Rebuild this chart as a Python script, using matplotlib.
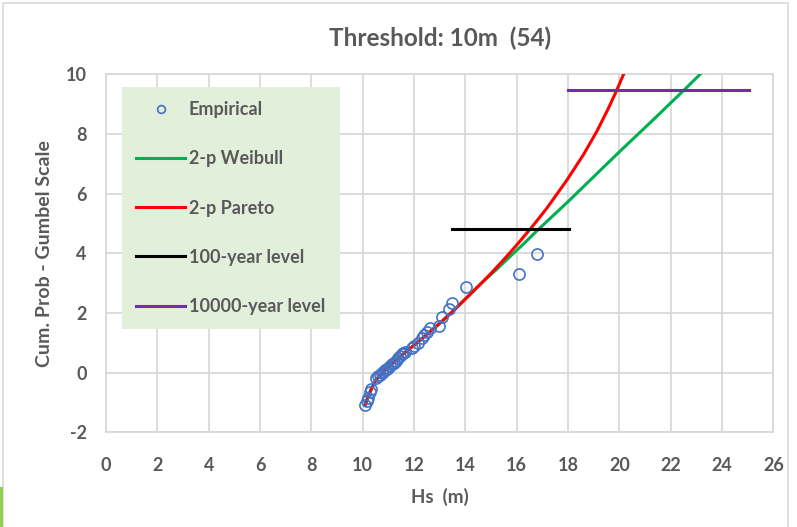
import matplotlib.pyplot as plt
import matplotlib.patches as patches

plt.rcParams['font.family'] = ['Lato', 'DejaVu Sans']
plt.rcParams['axes.unicode_minus'] = False

# empirical points (Hs, reduced variate)
emp_hs = [10.09, 10.15, 10.22, 10.28, 10.33, 10.51, 10.60, 10.67, 10.74, 10.80,
          10.87, 10.93, 11.00, 11.06, 11.15, 11.23, 11.30, 11.39, 11.45, 11.52,
          11.58, 11.65, 11.93, 12.00, 12.17, 12.30, 12.40, 12.49, 12.62, 12.98,
          13.08, 13.37, 13.47, 14.02, 16.10, 16.80]
emp_y = [-1.08, -0.95, -0.84, -0.64, -0.55, -0.19, -0.12, -0.08, -0.02, 0.03,
         0.08, 0.12, 0.17, 0.22, 0.28, 0.33, 0.40, 0.48, 0.55, 0.62,
         0.66, 0.70, 0.81, 0.88, 0.98, 1.15, 1.26, 1.37, 1.49, 1.56,
         1.87, 2.12, 2.34, 2.86, 3.30, 3.98]

# fitted curves
weib_hs = [10.09, 10.2, 10.35, 10.5, 10.7, 10.9, 11.2, 11.5, 11.9, 12.3, 12.7,
           13.1, 13.5, 14.0, 14.6, 15.2, 15.6, 16.26, 16.84, 17.5, 18.08,
           19.0, 20.02, 21.32, 22.49, 23.14]
weib_y = [-1.10, -0.82, -0.52, -0.27, -0.05, 0.12, 0.35, 0.57, 0.85, 1.13, 1.43,
          1.73, 2.05, 2.47, 2.98, 3.45, 3.78, 4.31, 4.80, 5.33, 5.80,
          6.57, 7.42, 8.48, 9.45, 10.0]

par_hs = [10.09, 10.2, 10.35, 10.5, 10.7, 10.9, 11.2, 11.5, 11.9, 12.3, 12.7,
          13.1, 13.5, 14.0, 14.6, 15.0, 15.54, 16.0, 16.58, 17.17, 17.95,
          18.6, 19.12, 19.57, 19.87, 20.15]
par_y = [-1.10, -0.82, -0.52, -0.27, -0.05, 0.12, 0.35, 0.57, 0.85, 1.13, 1.43,
         1.73, 2.05, 2.47, 2.98, 3.33, 3.83, 4.28, 4.87, 5.51, 6.45,
         7.31, 8.09, 8.86, 9.42, 9.98]

lvl100_hs = [13.47, 18.05]
lvl100_y = [4.80, 4.80]
lvl10000_hs = [18.0, 25.06]
lvl10000_y = [9.47, 9.47]

TXT = '#595959'
GRID = '#d9d9d9'

fig = plt.figure(figsize=(7.97, 5.27), dpi=100)
ax = fig.add_axes([0.133, 0.1797, 0.8375, 0.6793])

ax.plot(emp_hs, emp_y, linestyle='None', marker='o', markersize=8,
        markerfacecolor='none', markeredgecolor='#4472c4', markeredgewidth=1.2,
        label='Empirical', zorder=4)
ax.plot(weib_hs, weib_y, color='#00b050', lw=2.2, label='2-p Weibull', zorder=3)
ax.plot(par_hs, par_y, color='#ff0000', lw=2.2, label='2-p Pareto', zorder=3)
ax.plot(lvl100_hs, lvl100_y, color='black', lw=2.2, label='100-year level', zorder=3)
ax.plot(lvl10000_hs, lvl10000_y, color='#7030a0', lw=2.2, label='10000-year level', zorder=3)

ax.set_xlim(0, 26)
ax.set_ylim(-2, 10)
ax.set_xticks(range(0, 27, 2))
ax.set_yticks(range(-2, 11, 2))
ax.grid(True, color=GRID, lw=1.3)
ax.set_axisbelow(True)
for s in ax.spines.values():
    s.set_color(GRID)
    s.set_linewidth(1.3)
ax.tick_params(length=0, labelsize=13, labelcolor=TXT)
ax.tick_params(axis='y', pad=14)
ax.tick_params(axis='x', pad=18)
for lab in ax.get_xticklabels() + ax.get_yticklabels():
    lab.set_fontweight('bold')

ax.set_xlabel('Hs  (m)', fontsize=13.5, color=TXT, fontweight='bold', labelpad=10)
ax.set_ylabel('Cum. Prob - Gumbel Scale', fontsize=14, color=TXT, fontweight='bold', labelpad=9)
ax.set_title('Threshold: 10m  (54)', fontsize=17.5, color=TXT, fontweight='bold', pad=20)

leg = ax.legend(loc='upper left', bbox_to_anchor=(0.024, 0.965), borderaxespad=0,
                fontsize=13, labelspacing=1.78, borderpad=0.8, handlelength=2.7,
                handletextpad=0.2, numpoints=1, markerscale=0.7,
                facecolor='#e2efda', edgecolor='none', framealpha=1, fancybox=False)
for t in leg.get_texts():
    t.set_color(TXT)
    t.set_fontweight('bold')

# outer chart border and slide edge
fig.patches.append(patches.Rectangle((3 / 797, -0.02), 785 / 797, 1 - 3 / 527 + 0.02,
                                     transform=fig.transFigure, fill=False,
                                     edgecolor=GRID, lw=1.2))
fig.patches.append(patches.Rectangle((0, 0), 3 / 797, 40 / 527, transform=fig.transFigure,
                                     facecolor='#92d050', edgecolor='none'))

fig.savefig('out.png', dpi=100)
